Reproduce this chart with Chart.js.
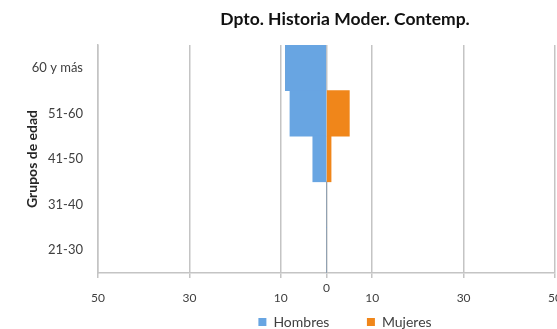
<!DOCTYPE html>
<html>
<head>
<meta charset="utf-8">
<script src="https://cdn.jsdelivr.net/npm/chart.js@4/dist/chart.umd.min.js"></script>
<style>
  html, body { margin: 0; padding: 0; background: #fff; overflow: hidden; }
  #wrap { width: 690px; height: 329px; position: relative; }
</style>
</head>
<body>
<div id="wrap"><canvas id="myChart"></canvas></div>
<script>
// age groups, top to bottom as in the picture
const groups = ['60 y más', '51-60', '41-50', '31-40', '21-30'];
// men drawn to the left (negative), women to the right
const hombres = [-9, -8, -3, 0, 0];
const mujeres = [0, 5, 1, 0, 0];
const xTicks = [-50, -30, -10, 0, 10, 30, 50];

const fontFamily = 'Lato, "Liberation Sans", sans-serif';
const gridColor = '#c4c4c4';

const ctx = document.getElementById('myChart').getContext('2d');
new Chart(ctx, {
    type: 'bar',
    data: {
        labels: groups,
        datasets: [
            {
                label: 'Hombres',
                data: hombres,
                backgroundColor: '#68a5e2',
                borderWidth: 0
            },
            {
                label: 'Mujeres',
                data: mujeres,
                backgroundColor: '#f0861a',
                borderWidth: 0
            }
        ]
    },
    options: {
        indexAxis: 'y',
        responsive: true,
        maintainAspectRatio: false,
        animation: false,
        barPercentage: 1,
        categoryPercentage: 1,
        layout: {
            padding: { left: 0, right: 0, top: 0, bottom: -10 }
        },
        scales: {
            x: {
                stacked: true,
                min: -50,
                max: 50,
                afterBuildTicks: function(axis) {
                    axis.ticks = xTicks.map(v => ({ value: v }));
                },
                afterFit: function(axis) {
                    axis.height = 36;
                },
                grid: {
                    color: gridColor,
                    lineWidth: 1.5,
                    tickLength: 5,
                    tickColor: gridColor
                },
                border: { display: true, color: gridColor, width: 1.5 },
                ticks: {
                    color: '#404040',
                    padding: 3,
                    maxRotation: 0,
                    font: function(c) {
                        // the zero label sits a bit higher than the others
                        if (c.tick && c.tick.value === 0) {
                            return { family: fontFamily, size: 12, lineHeight: 1.2 };
                        }
                        return { family: fontFamily, size: 12, lineHeight: 0.95 };
                    },
                    callback: function(value) {
                        if (value === 0) return '0';
                        return ['', String(Math.abs(value))];
                    }
                }
            },
            y: {
                stacked: true,
                afterFit: function(axis) {
                    axis.width = 98;
                },
                grid: { display: false, drawTicks: false },
                border: { display: true, color: gridColor, width: 1.5 },
                ticks: {
                    color: '#404040',
                    padding: 15,
                    font: { family: fontFamily, size: 13 }
                },
                title: {
                    display: true,
                    text: 'Grupos de edad',
                    color: '#262626',
                    padding: { top: 24, bottom: 4 },
                    font: { family: fontFamily, size: 14, weight: 'bold' }
                }
            },
            // empty axis on the right: the original chart runs on past the crop
            yRight: {
                type: 'category',
                position: 'right',
                afterFit: function(axis) {
                    axis.width = 135;
                },
                grid: { display: false, drawTicks: false },
                border: { display: false },
                ticks: { display: false }
            }
        },
        plugins: {
            title: {
                display: true,
                text: 'Dpto. Historia Moder. Contemp.',
                color: '#111',
                padding: { top: 9, bottom: 15 },
                font: { family: fontFamily, size: 17.5, weight: 'bold' }
            },
            legend: {
                position: 'bottom',
                labels: {
                    boxWidth: 8,
                    boxHeight: 8,
                    padding: 6,
                    color: '#404040',
                    font: { family: fontFamily, size: 14 },
                    generateLabels: function(chart) {
                        const items = Chart.defaults.plugins.legend.labels.generateLabels(chart);
                        // wide gap between the two entries, as in the original
                        items[0].text = items[0].text + '\u2003\u2003\u2003';
                        return items;
                    }
                }
            },
            tooltip: { enabled: false }
        }
    }
});
</script>
</body>
</html>
